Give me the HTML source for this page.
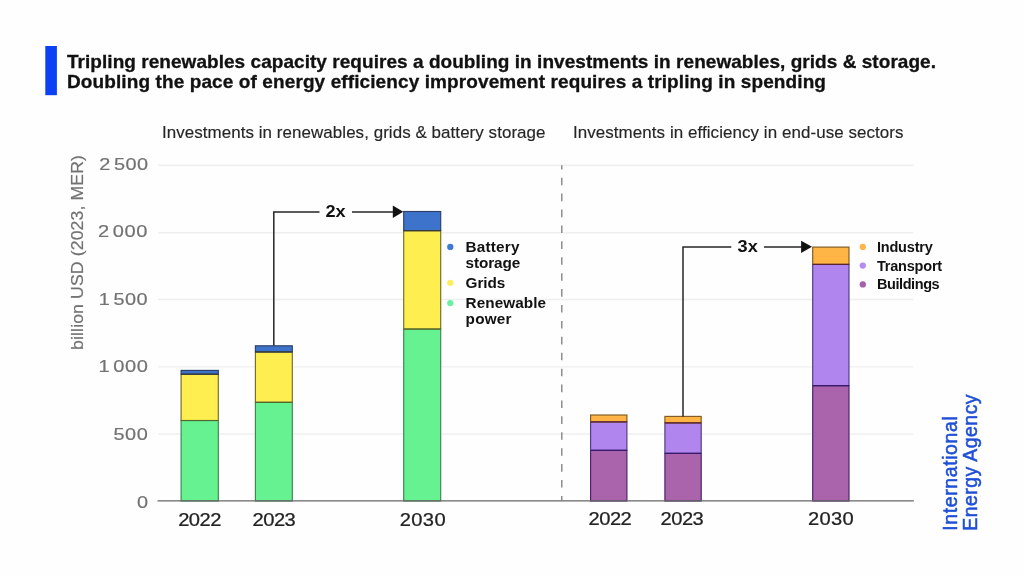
<!DOCTYPE html>
<html lang="en">
<head>
<meta charset="utf-8">
<title>Tripling renewables capacity requires a doubling in investments</title>
<style>
  html,body{margin:0;padding:0;background:#fefefe;}
  body{width:1024px;height:576px;overflow:hidden;position:relative;font-family:"Liberation Sans",sans-serif;}
  svg{position:absolute;left:0;top:0;display:block;will-change:transform;}
  text{font-family:"Liberation Sans",sans-serif;}
  .title{font-weight:700;font-size:18px;fill:#111;stroke:#111;stroke-width:.3px;}
  .sub{font-size:16px;fill:#262626;stroke:#262626;stroke-width:.15px;}
  .ylab{font-size:16.5px;fill:#727272;stroke:#727272;stroke-width:.2px;}
  .ynum text{font-size:17px;letter-spacing:.45px;word-spacing:-2.6px;}
  .xlab{font-size:17.5px;fill:#222;stroke:#222;stroke-width:.25px;letter-spacing:-.45px;}
  .leg{font-weight:700;font-size:15.3px;fill:#111;}
  .mult{font-weight:700;font-size:16.5px;fill:#111;}
  .iea{font-size:19.5px;fill:#1f4fd6;stroke:#1f4fd6;stroke-width:.5px;}
  .grid line{stroke:#efefef;stroke-width:1.4;}
</style>
</head>
<body>
<svg width="1024" height="576" viewBox="0 0 1024 576">
  <rect x="0" y="0" width="1024" height="576" fill="#fefefe"/>
  <!-- accent bar -->
  <rect x="45.3" y="46" width="11.6" height="49.2" fill="#0b40f5"/>
  <!-- title -->
  <text class="title" transform="translate(67,68) scale(1.055,1)" textLength="823.7" lengthAdjust="spacing">Tripling renewables capacity requires a doubling in investments in renewables, grids &amp; storage.</text>
  <text class="title" transform="translate(67,88) scale(1.055,1)" textLength="719.4" lengthAdjust="spacing">Doubling the pace of energy efficiency improvement requires a tripling in spending</text>
  <!-- subtitles -->
  <text class="sub" transform="translate(162,138) scale(1.06,1)" textLength="361.8" lengthAdjust="spacing">Investments in renewables, grids &amp; battery storage</text>
  <text class="sub" transform="translate(573,138) scale(1.06,1)" textLength="311.8" lengthAdjust="spacing">Investments in efficiency in end-use sectors</text>

  <!-- gridlines -->
  <g class="grid">
    <line x1="158" x2="913.5" y1="165.3" y2="165.3"/>
    <line x1="158" x2="913.5" y1="232.8" y2="232.8"/>
    <line x1="158" x2="913.5" y1="299.5" y2="299.5"/>
    <line x1="158" x2="913.5" y1="366.9" y2="366.9"/>
    <line x1="158" x2="913.5" y1="434" y2="434"/>
  </g>

  <!-- y axis labels -->
  <g class="ylab ynum">
    <text transform="translate(99.3,169.6) scale(1.17,1)">2 500</text>
    <text transform="translate(98.1,237.2) scale(1.18,1)">2 000</text>
    <text transform="translate(98.8,304.5) scale(1.17,1)">1 500</text>
    <text transform="translate(98.6,372) scale(1.18,1)">1 000</text>
    <text transform="translate(113.5,439.7) scale(1.17,1)">500</text>
    <text transform="translate(136.9,507.7) scale(1.17,1)">0</text>
  </g>
  <text class="ylab" transform="translate(82.6,349.9) rotate(-90) scale(1.05,1)" style="font-size:16.8px" textLength="185.6" lengthAdjust="spacing">billion USD (2023, MER)</text>

  <!-- dashed divider -->
  <line x1="561.8" x2="561.8" y1="165.3" y2="500.5" stroke="#858585" stroke-width="1.4" stroke-dasharray="7.6 8.31" stroke-dashoffset="3.5"/>

  <!-- LEFT bars -->
  <g stroke-width="1.15">
    <rect x="181.1" y="420.5" width="37.2" height="80.5" fill="#66f290" stroke="#3f8353"/>
    <rect x="181.1" y="374.2" width="37.2" height="46.3" fill="#ffee50" stroke="#726d2c"/>
    <rect x="181.1" y="370.4" width="37.2" height="3.8" fill="#3e73cc" stroke="#2c3f66"/>
    <rect x="255.4" y="402.3" width="36.9" height="98.7" fill="#66f290" stroke="#3f8353"/>
    <rect x="255.4" y="351.9" width="36.9" height="50.4" fill="#ffee50" stroke="#726d2c"/>
    <rect x="255.4" y="345.8" width="36.9" height="6.1" fill="#3e73cc" stroke="#2c3f66"/>
    <rect x="403.7" y="329" width="37" height="172" fill="#66f290" stroke="#3f8353"/>
    <rect x="403.7" y="230.6" width="37" height="98.4" fill="#ffee50" stroke="#726d2c"/>
    <rect x="403.7" y="211.5" width="37" height="19.1" fill="#3e73cc" stroke="#2c3f66"/>
  </g>

  <!-- RIGHT bars -->
  <g stroke-width="1.15">
    <rect x="590.6" y="450.3" width="36.3" height="50.7" fill="#a964ab" stroke="#4a2068"/>
    <rect x="590.6" y="421.8" width="36.3" height="28.5" fill="#b085ee" stroke="#4f3a86"/>
    <rect x="590.6" y="415" width="36.3" height="6.8" fill="#ffb445" stroke="#7f5a22"/>
    <rect x="664.9" y="453.3" width="36.3" height="47.7" fill="#a964ab" stroke="#4a2068"/>
    <rect x="664.9" y="422.8" width="36.3" height="30.5" fill="#b085ee" stroke="#4f3a86"/>
    <rect x="664.9" y="416.4" width="36.3" height="6.4" fill="#ffb445" stroke="#7f5a22"/>
    <rect x="812.7" y="385.6" width="36.3" height="115.4" fill="#a964ab" stroke="#4a2068"/>
    <rect x="812.7" y="264.4" width="36.3" height="121.2" fill="#b085ee" stroke="#4f3a86"/>
    <rect x="812.7" y="247.1" width="36.3" height="17.3" fill="#ffb445" stroke="#7f5a22"/>
  </g>
  <g stroke-width="1.2">
    <line x1="181.1" x2="218.3" y1="420.5" y2="420.5" stroke="#4d6a2c"/>
    <line x1="181.1" x2="218.3" y1="374.2" y2="374.2" stroke="#3a3d33"/>
    <line x1="255.4" x2="292.3" y1="402.3" y2="402.3" stroke="#4d6a2c"/>
    <line x1="255.4" x2="292.3" y1="351.9" y2="351.9" stroke="#3a3d33"/>
    <line x1="403.7" x2="440.7" y1="329" y2="329" stroke="#4d6a2c"/>
    <line x1="403.7" x2="440.7" y1="230.6" y2="230.6" stroke="#3a3d33"/>
    <line x1="590.6" x2="626.9" y1="450.3" y2="450.3" stroke="#3b1a6e"/>
    <line x1="590.6" x2="626.9" y1="421.8" y2="421.8" stroke="#5a2233"/>
    <line x1="664.9" x2="701.2" y1="453.3" y2="453.3" stroke="#3b1a6e"/>
    <line x1="664.9" x2="701.2" y1="422.8" y2="422.8" stroke="#5a2233"/>
    <line x1="812.7" x2="849" y1="385.6" y2="385.6" stroke="#3b1a6e"/>
    <line x1="812.7" x2="849" y1="264.4" y2="264.4" stroke="#5a2233"/>
  </g>

  <!-- x axis -->
  <line x1="157.5" x2="913.8" y1="500.9" y2="500.9" stroke="#666" stroke-width="1.3"/>

  <!-- arrows -->
  <g stroke="#262626" stroke-width="1.5" fill="none">
    <path d="M273.8 345.6 V211.9 H319.5"/>
    <path d="M352 211.9 H394"/>
    <path d="M683 416.4 V246.9 H731.3"/>
    <path d="M764 246.9 H803"/>
  </g>
  <path d="M392.8 205.6 L403.2 211.8 L392.8 218 Z" fill="#111"/>
  <path d="M801.1 240.7 L812 246.8 L801.1 252.9 Z" fill="#111"/>
  <text class="mult" transform="translate(325.4,217.2) scale(1.1,1)">2x</text>
  <text class="mult" transform="translate(737.6,252.3) scale(1.1,1)">3x</text>

  <!-- x labels -->
  <g class="xlab">
    <text transform="translate(178.2,525.7) scale(1.15,1)">2022</text>
    <text transform="translate(252.6,525.7) scale(1.15,1)">2023</text>
    <text transform="translate(399.8,525.7) scale(1.15,1)" style="letter-spacing:.3px">2030</text>
    <text transform="translate(588.6,525.2) scale(1.15,1)">2022</text>
    <text transform="translate(660.6,525.2) scale(1.15,1)">2023</text>
    <text transform="translate(808,525.2) scale(1.15,1)" style="letter-spacing:.3px">2030</text>
  </g>

  <!-- left legend -->
  <circle cx="450.3" cy="246.9" r="3.15" fill="#3f7bd6"/>
  <circle cx="450.3" cy="282.8" r="3.15" fill="#ffee5c"/>
  <circle cx="450.3" cy="303.1" r="3.15" fill="#6bf0a0"/>
  <g class="leg">
    <text x="465.6" y="251.6" textLength="53.8" lengthAdjust="spacing">Battery</text>
    <text x="465.6" y="267.5" textLength="54.7" lengthAdjust="spacing">storage</text>
    <text x="465.6" y="287.5" textLength="39.7" lengthAdjust="spacing">Grids</text>
    <text x="465.6" y="308.1" textLength="80.5" lengthAdjust="spacing">Renewable</text>
    <text x="465.6" y="323.8" textLength="45.9" lengthAdjust="spacing">power</text>
  </g>

  <!-- right legend -->
  <circle cx="862.8" cy="246.9" r="3.15" fill="#ffb54d"/>
  <circle cx="862.8" cy="265.6" r="3.15" fill="#b58cf0"/>
  <circle cx="862.8" cy="284.4" r="3.15" fill="#a562a8"/>
  <g class="leg" style="font-size:14.5px">
    <text x="876.9" y="251.9" textLength="56" lengthAdjust="spacing">Industry</text>
    <text x="876.9" y="270.6" textLength="65.3" lengthAdjust="spacing">Transport</text>
    <text x="876.9" y="289.4" textLength="62.8" lengthAdjust="spacing">Buildings</text>
  </g>

  <!-- IEA logo text -->
  <g class="iea">
    <text transform="translate(956.6,530.8) rotate(-90)" textLength="114.6" lengthAdjust="spacing">International</text>
    <text transform="translate(977.4,530.8) rotate(-90)" textLength="136.4" lengthAdjust="spacing">Energy Agency</text>
  </g>
</svg>
</body>
</html>
